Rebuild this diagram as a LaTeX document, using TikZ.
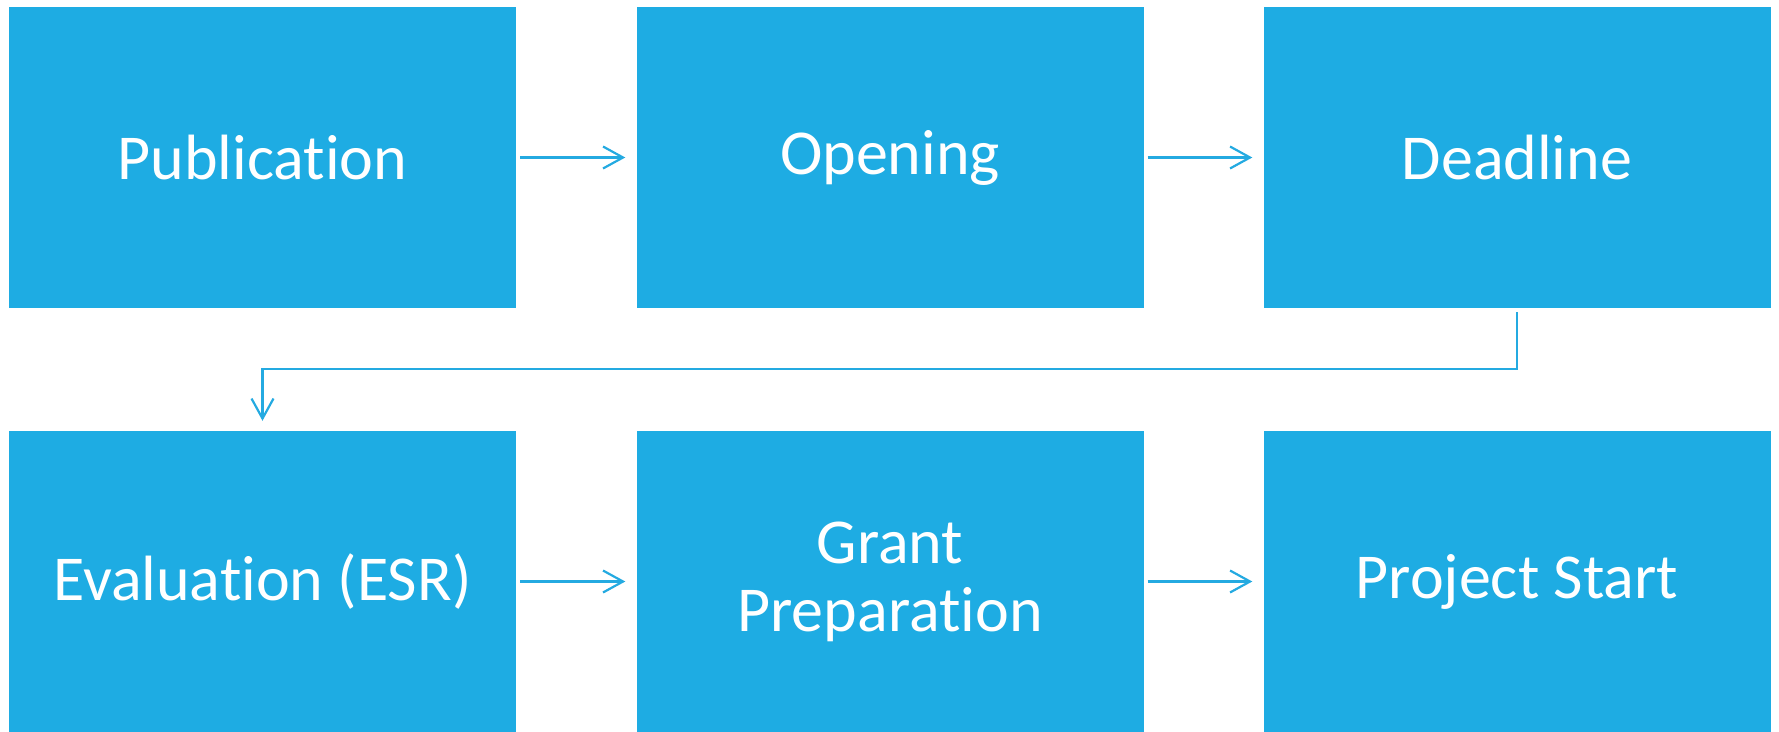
\documentclass[tikz,border=0pt]{standalone}
\usepackage{fontspec}
\setmainfont{Carlito}[RawFeature={-liga;-clig;-dlig}]
\usetikzlibrary{arrows.meta}
\definecolor{boxblue}{RGB}{30,172,227}
\definecolor{lineblue}{RGB}{36,170,225}
\tikzset{
  stepbox/.style={rectangle, fill=boxblue, draw=none, inner sep=0pt,
    minimum width=507pt, minimum height=301pt, text=white, align=center,
    font=\fontsize{64}{68}\selectfont},
  arr/.style={draw=lineblue, line width=2.2pt,
    -{Straight Barb[length=20pt,width=22pt,line width=2.2pt]}}
}
\begin{document}
\begin{tikzpicture}[x=1pt,y=-1pt]
\useasboundingbox (0,0) rectangle (1779,731);
\node[stepbox] (b1) at (262.5,157.5) {Publication};
\node[stepbox] (b2) at (890,157.5) {Opening};
\node[stepbox] (b3) at (1517,157.5) {Deadline};
\node[stepbox] (b4) at (262.5,581.5) {Evaluation (ESR)};
\node[stepbox] (b5) at (890,581.5) {Grant\\Preparation};
\node[stepbox] (b6) at (1517,581.5) {Project Start};
\draw[arr] ([xshift=4pt]b1.east) -- ([xshift=-11pt]b2.west);
\draw[arr] ([xshift=4pt]b2.east) -- ([xshift=-11pt]b3.west);
\draw[arr] ([xshift=4pt]b4.east) -- ([xshift=-11pt]b5.west);
\draw[arr] ([xshift=4pt]b5.east) -- ([xshift=-11pt]b6.west);
\draw[arr] ([yshift=-4pt]b3.south) -- ++(0,57) -| ([yshift=10pt]b4.north);
\end{tikzpicture}
\end{document}
